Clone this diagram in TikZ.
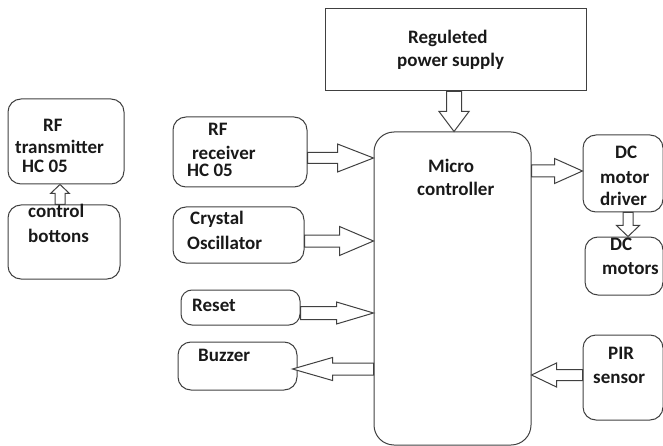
\documentclass[tikz,border=0pt]{standalone}
\usepackage{fontspec}
\setmainfont{Carlito}
\usetikzlibrary{calc}
\tikzset{
  box/.style={draw=black!75, line width=1pt, rounded corners=13pt, inner sep=0pt},
  sqbox/.style={draw=black!75, line width=1pt, inner sep=0pt},
  lbl/.style={anchor=base west, inner sep=0pt, font=\bfseries\fontsize{19}{22}\selectfont, text=black!90},
  blk/.style={draw=black!75, line width=1pt, fill=white, line join=miter},
}
% block arrow: #1 start, #2 tip, #3 shaft half width, #4 head half width, #5 head length
\newcommand\blockarrow[5]{%
  \coordinate (hb) at ($(#2)!#5!(#1)$);
  \draw[blk] ($(#1)!#3!90:(#2)$) -- ($(hb)!#3!-90:(#1)$) -- ($(hb)!#4!-90:(#1)$)
     -- (#2) -- ($(hb)!#4!90:(#1)$) -- ($(hb)!#3!90:(#1)$) -- ($(#1)!#3!-90:(#2)$) -- cycle;
}
\begin{document}
\begin{tikzpicture}[x=1pt,y=-1pt]
\useasboundingbox (0,0) rectangle (663,446);

% boxes
\node[box, minimum width=116pt, minimum height=85pt] (tx) at (66,141.5) {};
\node[box, minimum width=112pt, minimum height=74pt] (cb) at (64,242) {};
\node[box, minimum width=134pt, minimum height=70pt] (rx) at (240,152) {};
\node[box, minimum width=131pt, minimum height=56pt] (xo) at (238.5,235) {};
\node[box, minimum width=119pt, minimum height=35pt, rounded corners=11pt] (rs) at (240.5,307.5) {};
\node[box, minimum width=119pt, minimum height=48pt] (bz) at (237.5,366) {};
\node[sqbox, minimum width=261pt, minimum height=82pt] (ps) at (455.5,50) {};
\node[box, minimum width=157pt, minimum height=313pt, rounded corners=20pt] (mc) at (452.5,288.5) {};
\node[box, minimum width=80pt, minimum height=77pt] (dd) at (623,173.5) {};
\node[box, minimum width=78pt, minimum height=58pt] (dm) at (624,266) {};
\node[box, minimum width=80pt, minimum height=85pt] (pir) at (623,377.5) {};

% labels
\node[lbl] (t1) at (43,132) {RF};
\node[lbl] (t2) at (15,154) {transmitter};
\node[lbl] (t3) at (22,173) {HC 05};
\node[lbl] (c1) at (28,218) {control};
\node[lbl] (c2) at (28,243) {bottons};
\node[lbl] (r1) at (208,136) {RF};
\node[lbl] (r2) at (192,160) {receiver};
\node[lbl] (r3) at (187,177) {HC 05};
\node[lbl] (x1) at (190,225) {Crystal};
\node[lbl] (x2) at (187,249) {Oscillator};
\node[lbl] (s1) at (192,311) {Reset};
\node[lbl] (b1) at (198,361) {Buzzer};
\node[lbl] (p1) at (408,44) {Reguleted};
\node[lbl] (p2) at (397,67) {power supply};
\node[lbl] (m1) at (428,173) {Micro};
\node[lbl] (m2) at (417,196) {controller};
\node[lbl] (d1) at (615,159) {DC};
\node[lbl] (d2) at (600,184) {motor};
\node[lbl] (d3) at (600,206) {driver};
\node[lbl] (e1) at (610,251) {DC};
\node[lbl] (e2) at (602,274) {motors};
\node[lbl] (q1) at (608,359) {PIR};
\node[lbl] (q2) at (593,383) {sensor};

% arrow end points
\coordinate (a1s) at (cb.north -| 60,0);
\coordinate (a1e) at (tx.south -| 60,0);
\coordinate (a2s) at (rx.east |- 0,158);
\coordinate (a2e) at (mc.west |- 0,158);
\coordinate (a3s) at (xo.east |- 0,241);
\coordinate (a3e) at (mc.west |- 0,241);
\coordinate (a4s) at (rs.east |- 0,313);
\coordinate (a4e) at (mc.west |- 0,313);
\coordinate (a5s) at (mc.west |- 0,369);
\coordinate (a5e) at ($(bz.east |- 0,369)+(-5,0)$);
\coordinate (a6s) at (ps.south -| 454,0);
\coordinate (a6e) at (mc.north -| 454,0);
\coordinate (a7s) at (mc.east |- 0,171);
\coordinate (a7e) at (dd.west |- 0,171);
\coordinate (a8s) at (dd.south -| 628,0);
\coordinate (a8e) at (dm.north -| 628,0);
\coordinate (a9s) at (pir.west |- 0,375);
\coordinate (a9e) at (mc.east |- 0,375);

\blockarrow{a1s}{a1e}{5pt}{9.5pt}{9pt}
\blockarrow{a2s}{a2e}{5.5pt}{14pt}{36pt}
\blockarrow{a3s}{a3e}{6pt}{14.5pt}{34pt}
\blockarrow{a4s}{a4e}{6.5pt}{11pt}{37pt}
\blockarrow{a5s}{a5e}{6pt}{11.5pt}{40pt}
\blockarrow{a6s}{a6e}{7.5pt}{15pt}{20pt}
\blockarrow{a7s}{a7e}{6pt}{12.5pt}{28pt}
\blockarrow{a8s}{a8e}{5pt}{11.5pt}{11pt}
\blockarrow{a9s}{a9e}{5.5pt}{12pt}{25pt}
\end{tikzpicture}
\end{document}
